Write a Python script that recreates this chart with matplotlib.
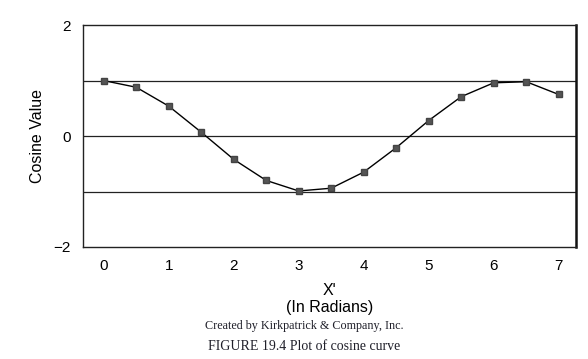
"""
Plot of cosine curve (Figure 19.4 recreation).
"""
import matplotlib
matplotlib.use("Agg")
import matplotlib.pyplot as plt

X_VALUES = [0, 0.5, 1, 1.5, 2, 2.5, 3, 3.5, 4, 4.5, 5, 5.5, 6, 6.5, 7]
COS_VALUES = [1.0, 0.88, 0.54, 0.07, -0.42, -0.80, -0.99, -0.94, -0.65,
              -0.21, 0.28, 0.71, 0.96, 0.98, 0.75]
X_TICKS = [0, 1, 2, 3, 4, 5, 6, 7]
Y_TICKS = [-2, 0, 2]
GRID_LEVELS = [-1, 0, 1]

SANS = "Liberation Sans"
SERIF = "Liberation Serif"


def main():
    fig = plt.figure(figsize=(5.88, 3.59), dpi=100)
    ax = fig.add_axes([0.141, 0.312, 0.839, 0.618])

    for level in GRID_LEVELS:
        ax.axhline(level, color="#222222", lw=0.9, zorder=1)

    ax.plot(X_VALUES, COS_VALUES, color="black", lw=1.0, marker="s",
            markersize=4.8, markerfacecolor="#555555",
            markeredgecolor="#444444", zorder=3)

    ax.set_xlim(-0.32, 7.27)
    ax.set_ylim(-2, 2)
    ax.set_xticks(X_TICKS)
    ax.set_yticks(Y_TICKS)
    ax.set_yticklabels(["\u22122", "0", "2"])
    ax.tick_params(length=0, labelsize=11, pad=9)
    for lbl in ax.get_xticklabels() + ax.get_yticklabels():
        lbl.set_family(SANS)

    for side in ["left", "bottom", "top"]:
        ax.spines[side].set_linewidth(1.0)
        ax.spines[side].set_color("#222222")
    ax.spines["right"].set_linewidth(1.8)
    ax.spines["right"].set_color("#111111")

    ax.set_ylabel("Cosine Value", family=SANS, fontsize=11.5, labelpad=6)
    ax.set_xlabel("X'\n(In Radians)", family=SANS, fontsize=11.5,
                  labelpad=7, linespacing=1.15)

    fig.text(0.517, 0.092, "Created by Kirkpatrick & Company, Inc.",
             family=SERIF, fontsize=8.7, ha="center", va="center",
             color="#20202a")
    fig.text(0.517, 0.036, "FIGURE 19.4 Plot of cosine curve",
             family=SERIF, fontsize=10, ha="center", va="center",
             color="#20202a")

    fig.savefig("out.png", dpi=100)


if __name__ == '__main__':
    main()
